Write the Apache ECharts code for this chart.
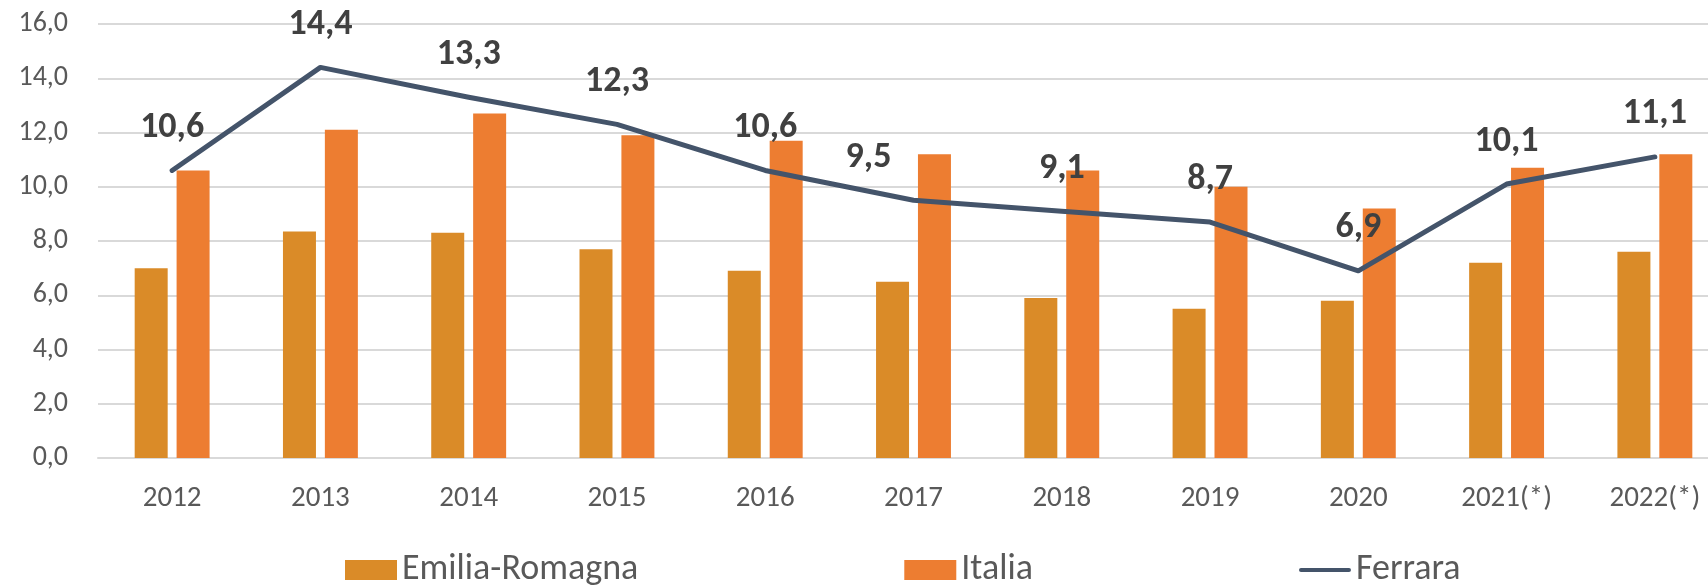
<!DOCTYPE html>
<html>
<head>
<meta charset="utf-8">
<script src="https://cdn.jsdelivr.net/npm/echarts@6/dist/echarts.min.js"></script>
<style>
  html, body { margin: 0; padding: 0; background: #fff; }
  #chart { width: 1708px; height: 585px; }
</style>
</head>
<body>
<div id="chart"></div>
<script>
// data
var categories = ["2012", "2013", "2014", "2015", "2016", "2017", "2018", "2019", "2020", "2021(*)", "2022(*)"];
var emiliaRomagna = [7.0, 8.35, 8.3, 7.7, 6.9, 6.5, 5.9, 5.5, 5.8, 7.2, 7.6];
var italia = [10.6, 12.1, 12.7, 11.9, 11.7, 11.2, 10.6, 10.0, 9.2, 10.7, 11.2];
var ferrara = [10.6, 14.4, 13.3, 12.3, 10.6, 9.5, 9.1, 8.7, 6.9, 10.1, 11.1];

var FONT = "Carlito, Lato, sans-serif";
var comma = function (v, d) { return Number(v).toFixed(d).replace(".", ","); };

// the 2017 label sits left of its point in the original
var ferraraData = ferrara.map(function (v, i) {
  if (categories[i] === "2017") return { value: v, label: { offset: [-45, 0] } };
  return v;
});

var chart = echarts.init(document.getElementById("chart"));
var option = {
  animation: false,
  backgroundColor: "#fff",
  // plot area runs past the right edge in the original (cropped)
  grid: { left: 98, top: 24, width: 1631, height: 434, outerBoundsMode: "none" },
  legend: {
    left: 340,
    top: 547,
    itemWidth: 52,
    itemHeight: 20,
    itemGap: 266,
    textStyle: { fontFamily: FONT, fontSize: 36, color: "#595959" },
    data: [
      { name: "Emilia-Romagna", icon: "rect" },
      { name: "Italia", icon: "rect" },
      { name: "Ferrara", icon: "path://M2,0H98A2,2 0 0 1 98,8H2A2,2 0 0 1 2,0Z" },
    ],
  },
  xAxis: {
    type: "category",
    data: categories,
    axisLine: { lineStyle: { color: "#D9D9D9", width: 2 } },
    axisTick: { show: false },
    axisLabel: { fontFamily: FONT, fontSize: 29, color: "#595959", margin: 26 },
  },
  yAxis: {
    type: "value",
    min: 0,
    max: 16,
    interval: 2,
    axisLine: { show: false },
    axisTick: { show: false },
    splitLine: { lineStyle: { color: "#D9D9D9", width: 2 } },
    axisLabel: {
      fontFamily: FONT,
      fontSize: 28,
      color: "#595959",
      margin: 30,
      formatter: function (v) { return comma(v, 1); },
    },
  },
  series: [
    {
      name: "Emilia-Romagna",
      type: "bar",
      data: emiliaRomagna,
      barWidth: 33,
      barGap: "27%",
      itemStyle: { color: "#DA8B28" },
    },
    {
      name: "Italia",
      type: "bar",
      data: italia,
      barWidth: 33,
      itemStyle: { color: "#ED7D31" },
    },
    {
      name: "Ferrara",
      type: "line",
      data: ferraraData,
      symbol: "circle",
      symbolSize: 1,
      itemStyle: { color: "#44546A" },
      lineStyle: { color: "#44546A", width: 5, cap: "round", join: "round" },
      label: {
        show: true,
        position: "top",
        distance: 24,
        fontFamily: FONT,
        fontSize: 36,
        fontWeight: "bold",
        color: "#404040",
        formatter: function (p) { return comma(p.value, 1); },
      },
      z: 5,
    },
  ],
};
chart.setOption(option);
</script>
</body>
</html>
